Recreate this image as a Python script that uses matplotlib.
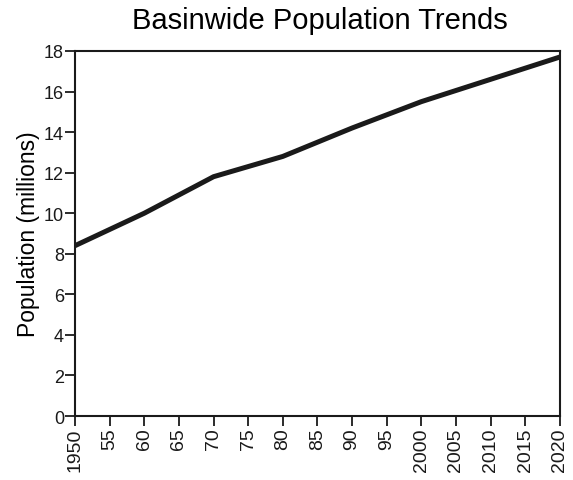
import numpy as np
import matplotlib
matplotlib.use("Agg")
import matplotlib.pyplot as plt

plt.rcParams['font.family'] = ['Liberation Sans', 'DejaVu Sans']

# values (millions)
years = [1950, 1960, 1970, 1980, 1990, 2000, 2010, 2020]
population = [8.4, 10.0, 11.8, 12.8, 14.2, 15.5, 16.6, 17.7]

tick_years = list(range(1950, 2021, 5))
tick_labels = ['1950', '55', '60', '65', '70', '75', '80', '85', '90', '95',
               '2000', '2005', '2010', '2015', '2020']

fig = plt.figure(figsize=(5.73, 4.81), dpi=100)
ax = fig.add_axes([0.131, 0.133, 0.846, 0.759])

ax.plot(years, population, color='#1a1a1a', linewidth=3.6,
        solid_capstyle='butt', solid_joinstyle='round')

ax.set_xlim(1950, 2020)
ax.set_ylim(0, 18)
ax.set_yticks(np.arange(0, 19, 2))
ax.set_xticks(tick_years)
ax.set_xticklabels(tick_labels, rotation=90)

ax.tick_params(axis='both', direction='out', length=7, width=1.3,
               colors='#1a1a1a', pad=1)
ax.tick_params(axis='x', labelsize=14)
ax.tick_params(axis='y', labelsize=13)
for s in ax.spines.values():
    s.set_linewidth(1.5)
    s.set_color('#1a1a1a')

ax.set_ylabel('Population (millions)', fontsize=16.5, labelpad=3)
fig.text(0.558, 0.957, 'Basinwide Population Trends', ha='center',
         va='center', fontsize=21)

fig.savefig('out.png', dpi=100)
